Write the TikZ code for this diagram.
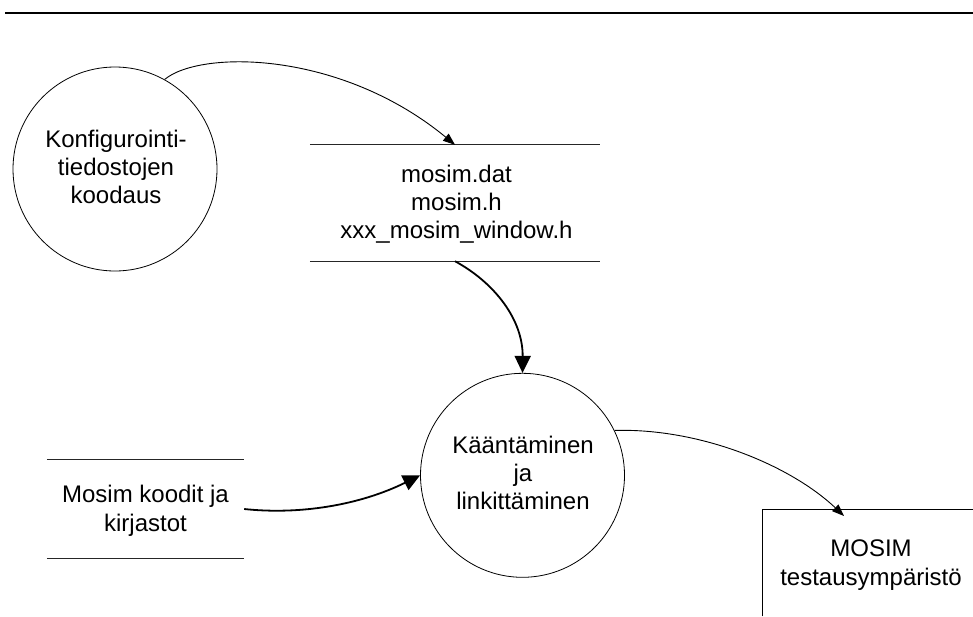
\documentclass[tikz,border=0pt]{standalone}
\usepackage{fontspec}
\setmainfont{Liberation Sans}
\usetikzlibrary{arrows.meta}
\begin{document}
\begin{tikzpicture}[x=1pt,y=-1pt,
  proc/.style={draw, circle, minimum size=204pt, inner sep=0pt, line width=0.8pt},
  txt/.style={anchor=base, inner sep=0pt, font=\fontsize{24}{28.3}\selectfont},
  store/.style={draw=none, inner sep=0pt},
  storeline/.style={line width=0.9pt, draw=black!85},
  thinflow/.style={line width=0.9pt, -{Triangle[length=12pt,width=9pt]}},
  thickflow/.style={line width=1.8pt, -{Triangle[length=17pt,width=16pt]}}
]
\useasboundingbox (0,0) rectangle (973,616);
% top rule
\draw[line width=2pt] (5,12.5) -- (973,12.5);

% process 1
\node[proc] (c1) at (115,169) {};
\node[txt] (c1t) at (116,147) {\begin{tabular}[t]{@{}c@{}}Konfigurointi-\\tiedostojen\\koodaus\end{tabular}};

% data store 1
\node[store, minimum width=290pt, minimum height=116pt] (d1) at (455,203) {};
\draw[storeline] (d1.north west) -- (d1.north east);
\draw[storeline] (d1.south west) -- (d1.south east);
\node[txt] (d1t) at (456.5,182) {\begin{tabular}[t]{@{}c@{}}mosim.dat\\mosim.h\\xxx\_mosim\_window.h\end{tabular}};

% data store 2
\node[store, minimum width=197pt, minimum height=98pt] (d2) at (145.5,509) {};
\draw[storeline] (d2.north west) -- (d2.north east);
\draw[storeline] (d2.south west) -- (d2.south east);
\node[txt] (d2t) at (145.5,502.7) {\begin{tabular}[t]{@{}c@{}}Mosim koodit ja\\kirjastot\end{tabular}};

% process 2
\node[proc] (c2) at (522.5,475.3) {};
\node[txt] (c2t) at (523,453) {\begin{tabular}[t]{@{}c@{}}Kääntäminen\\ja\\linkittäminen\end{tabular}};

% external entity
\node[store, anchor=north west, minimum width=211pt, minimum height=107pt] (mb) at (762,509) {};
\draw[line width=0.9pt] (mb.south west) -- (mb.north west) -- (mb.north east);
\node[txt] (mbt) at (871,556.7) {\begin{tabular}[t]{@{}c@{}}MOSIM\\testausympäristö\end{tabular}};
\coordinate (a4end) at (844,516);

% flows
\draw[thinflow] (c1.61.5) .. controls (200,50) and (340,50) .. (d1.north);
\draw[thickflow] (d1.south) .. controls (495,283) and (523,320) .. (c2.north);
\draw[thickflow] (d2.east) .. controls (300,515) and (360,505) .. (c2.west);
\draw[thinflow] (c2.26) .. controls (700,428) and (790,465) .. (a4end);
\end{tikzpicture}
\end{document}
